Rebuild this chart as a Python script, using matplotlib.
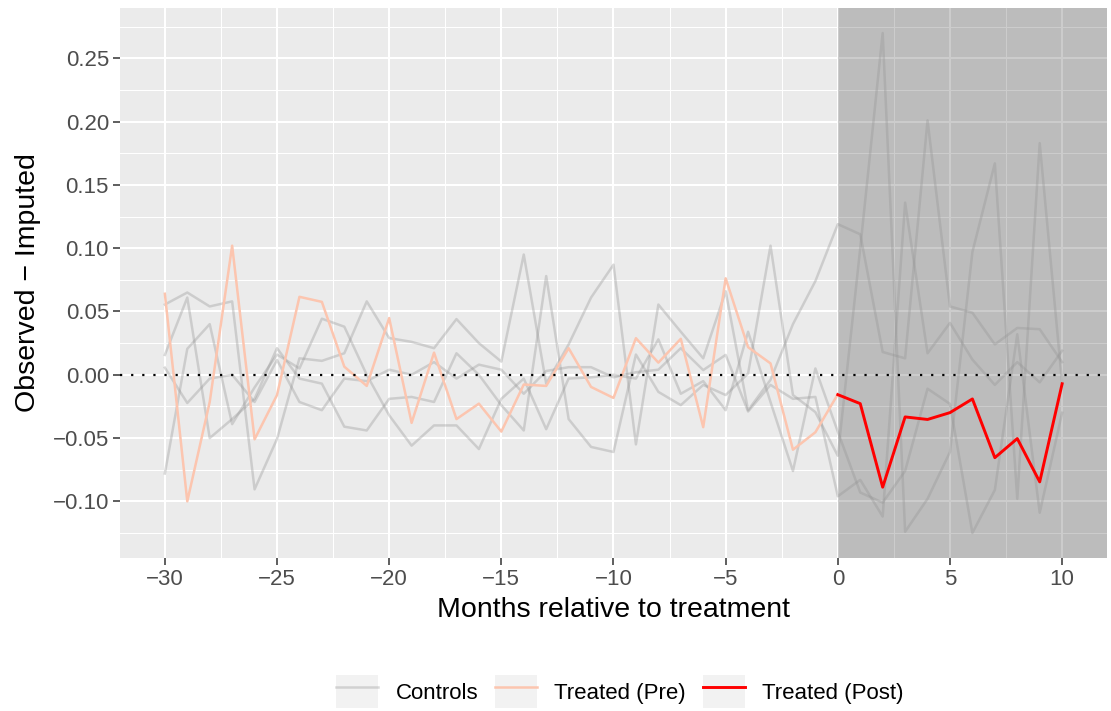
import numpy as np
import matplotlib
matplotlib.use("Agg")
import matplotlib.pyplot as plt
from matplotlib.lines import Line2D
from matplotlib.patches import Rectangle
from matplotlib.legend_handler import HandlerLine2D
from matplotlib.ticker import FuncFormatter, MultipleLocator

plt.rcParams['font.family'] = ['Liberation Sans', 'DejaVu Sans']

# months relative to treatment
months = list(range(-30, 11))

# observed - imputed gaps for the control units
control_1 = [0.0555, 0.065, 0.054, 0.058, -0.0905, -0.0507, 0.013, 0.011, 0.017, 0.058,
             0.029, 0.026, 0.021, 0.044, 0.025, 0.0104, 0.095, -0.007, 0.024, 0.061,
             0.087, -0.055, 0.0555, 0.034, 0.013, 0.066, -0.028, -0.004, 0.040, 0.074,
             0.119, 0.111, 0.018, 0.013, 0.201, 0.054, 0.049, 0.024, 0.037, 0.036, 0.010]
control_2 = [0.0157, 0.061, -0.050, -0.035, -0.019, 0.021, -0.003, -0.007, -0.041, -0.044,
             -0.019, -0.0175, -0.0215, 0.017, 0.0, -0.024, -0.044, 0.078, -0.035, -0.057,
             -0.061, 0.016, -0.0135, -0.024, -0.008, -0.016, 0.001, 0.102, -0.016, -0.0295,
             -0.064, 0.10, 0.27, -0.124, -0.098, -0.061, 0.097, 0.167, -0.098, 0.183, -0.007]
control_3 = [0.0056, -0.0223, -0.003, 0.000, -0.0215, 0.0117, -0.0215, -0.028, -0.003, -0.005,
             0.004, 0.0, 0.010, -0.003, 0.008, 0.004, -0.015, 0.003, 0.006, 0.006,
             -0.002, 0.002, 0.004, 0.021, 0.0037, 0.0157, -0.029, -0.008, -0.019, -0.0175,
             -0.096, -0.083, -0.112, 0.136, 0.017, 0.041, 0.012, -0.008, 0.010, -0.006, 0.019]
control_4 = [-0.078, 0.0205, 0.040, -0.039, -0.010, 0.016, 0.005, 0.0443, 0.038, 0.0,
             -0.032, -0.056, -0.040, -0.040, -0.0587, -0.019, -0.003, -0.043, -0.003, -0.002,
             0.0, -0.003, 0.028, -0.015, -0.005, -0.028, 0.034, -0.0215, -0.076, 0.005,
             -0.045, -0.093, -0.101, -0.076, -0.011, -0.023, -0.125, -0.091, 0.032, -0.109, -0.030]
controls = [control_1, control_2, control_3, control_4]

# treated unit, before (-30..0) and after (0..10) treatment
pre_months = list(range(-30, 1))
treated_pre = [0.064, -0.100, -0.0215, 0.102, -0.051, -0.016, 0.0616, 0.0576, 0.0064, -0.0088,
               0.0448, -0.038, 0.0175, -0.035, -0.0228, -0.0449, -0.0077, -0.0088, 0.021, -0.0096,
               -0.0183, 0.0289, 0.0096, 0.0284, -0.0414, 0.0762, 0.0218, 0.009, -0.0592, -0.0454,
               -0.0154]
post_months = list(range(0, 11))
treated_post = [-0.0157, -0.0228, -0.0888, -0.0333, -0.0353, -0.0299, -0.0191, -0.0655,
                -0.0504, -0.0846, -0.0071]

ctrl_color = (0.58, 0.58, 0.58, 0.35)
pre_color = '#FCC5AF'
post_color = '#FF0000'


class KeyHandler(HandlerLine2D):
    # legend key with a light box behind the line, like ggplot
    def create_artists(self, legend, orig_handle, xdescent, ydescent,
                       width, height, fontsize, trans):
        box = Rectangle((-xdescent, -ydescent), width, height,
                        facecolor='#F2F2F2', edgecolor='none', transform=trans)
        arts = super().create_artists(legend, orig_handle, xdescent, ydescent,
                                      width, height, fontsize, trans)
        return [box] + list(arts)


fig = plt.figure(figsize=(11.11, 7.11), dpi=100)
ax = fig.add_axes([0.108, 0.2152, 0.8884, 0.7735])
ax.set_facecolor('#EBEBEB')
for s in ax.spines.values():
    s.set_visible(False)

for c in controls:
    ax.plot(months, c, color=ctrl_color, lw=1.8, zorder=2)
ax.plot(pre_months, treated_pre, color=pre_color, lw=1.8, zorder=3)
ax.plot(post_months, treated_post, color=post_color, lw=2.1, zorder=4)
ax.axhline(0, color='black', lw=1.6, ls=(0, (1, 4)), zorder=5)

all_vals = np.concatenate([np.ravel(controls), treated_pre, treated_post])
xr = months[-1] - months[0]
yr = all_vals.max() - all_vals.min()
xlo, xhi = months[0] - 0.05 * xr, months[-1] + 0.05 * xr
ax.set_xlim(xlo, xhi)
ax.set_ylim(all_vals.min() - 0.05 * yr, all_vals.max() + 0.05 * yr)

# post-treatment window
ax.axvspan(0, xhi, facecolor='black', alpha=0.2, edgecolor='none', zorder=1)

ax.xaxis.set_major_locator(MultipleLocator(5))
ax.xaxis.set_minor_locator(MultipleLocator(2.5))
ax.yaxis.set_major_locator(MultipleLocator(0.05))
ax.yaxis.set_minor_locator(MultipleLocator(0.025))
ax.set_axisbelow(True)
ax.grid(which='major', color='white', lw=1.5)
ax.grid(which='minor', color='white', lw=0.75)

ax.xaxis.set_major_formatter(FuncFormatter(lambda v, p: f"{v:.0f}".replace('-', '\u2212')))
ax.yaxis.set_major_formatter(FuncFormatter(lambda v, p: f"{v:.2f}".replace('-', '\u2212')))
ax.tick_params(which='major', length=5, width=1.1, color='#333333',
               labelsize=16, labelcolor='#4D4D4D', pad=3)
ax.tick_params(which='minor', length=0)

ax.set_xlabel('Months relative to treatment', fontsize=20.5, labelpad=5)
ax.set_ylabel('Observed \u2212 Imputed', fontsize=20.5, labelpad=8)

handles = [Line2D([], [], color=ctrl_color, lw=1.8),
           Line2D([], [], color=pre_color, lw=1.8),
           Line2D([], [], color=post_color, lw=2.1)]
labels = ['Controls', 'Treated (Pre)', 'Treated (Post)']
fig.legend(handles, labels, loc='center', bbox_to_anchor=(0.558, 0.027), ncol=3,
           frameon=False, fontsize=16, handlelength=1.9, handleheight=1.9,
           handletextpad=0.78, columnspacing=0.75, borderpad=0,
           handler_map={Line2D: KeyHandler()})

fig.savefig('out.png', dpi=100)
